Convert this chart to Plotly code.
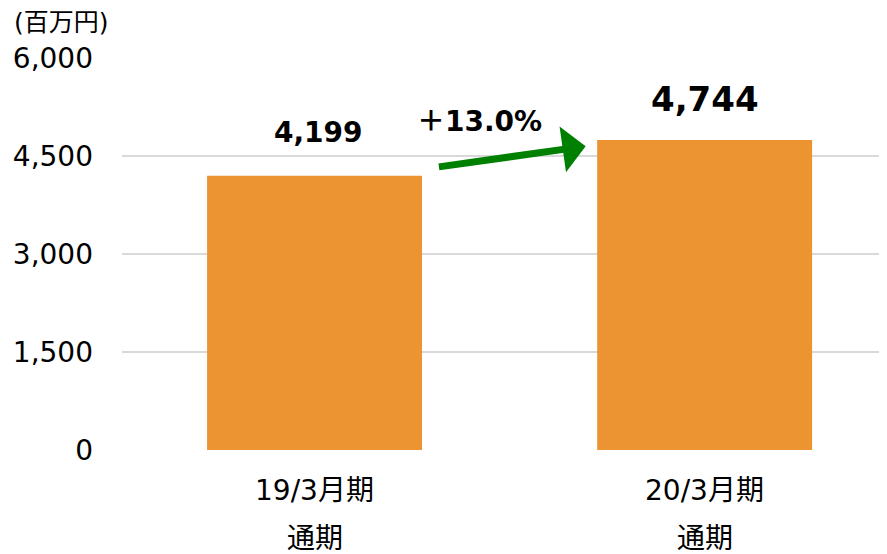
import plotly.graph_objects as go

categories = ["19/3月期", "20/3月期"]
sublabels = ["通期", "通期"]
values = [4199, 4744]
value_labels = ["4,199", "4,744"]
growth_label = "＋13.0%"
y_ticks = [0, 1500, 3000, 4500, 6000]
y_ticktext = ["0", "1,500", "3,000", "4,500", "6,000"]
unit_label = "(百万円)"

FONT = "DejaVu Sans, Noto Sans CJK JP, sans-serif"
BAR_COLOR = "#EC9432"

fig = go.Figure()
fig.add_trace(go.Bar(
    x=[0, 1], y=values, width=0.551,
    marker=dict(color=BAR_COLOR, line=dict(width=0)),
    hoverinfo="skip",
))

annotations = []
# category labels (two lines)
for i, (c, s) in enumerate(zip(categories, sublabels)):
    annotations.append(dict(x=i, y=0, xref="x", yref="y", text=c, showarrow=False,
                            yanchor="middle", yshift=-40,
                            font=dict(family=FONT, size=28, color="#000")))
    annotations.append(dict(x=i, y=0, xref="x", yref="y", text=s, showarrow=False,
                            yanchor="middle", yshift=-88,
                            font=dict(family=FONT, size=28, color="#000")))
# value labels
annotations.append(dict(x=0.01, y=values[0], xref="x", yref="y", text="<b>" + value_labels[0] + "</b>",
                        showarrow=False, yanchor="middle", yshift=43,
                        font=dict(family=FONT, size=28, color="#000")))
annotations.append(dict(x=1.0, y=values[1], xref="x", yref="y", text="<b>" + value_labels[1] + "</b>",
                        showarrow=False, yanchor="middle", yshift=41,
                        font=dict(family=FONT, size=34, color="#000")))
# growth label
annotations.append(dict(x=0.5, y=values[1], xref="x", yref="y", text="<b>" + growth_label + "</b>",
                        showarrow=False, yanchor="middle", xshift=-30, yshift=19,
                        font=dict(family=FONT, size=28, color="#000")))
# arrow
annotations.append(dict(x=0.695, y=4650, ax=0.315, ay=4330, xref="x", yref="y",
                        axref="x", ayref="y", text="", showarrow=True,
                        arrowhead=1, arrowsize=1.1, arrowwidth=7, arrowcolor="#008000"))
# unit label
annotations.append(dict(x=0, y=1, xref="paper", yref="paper", text=unit_label, showarrow=False,
                        xanchor="left", yanchor="middle", xshift=-110, yshift=36,
                        font=dict(family=FONT, size=25, color="#000")))

fig.update_layout(
    width=887, height=554,
    margin=dict(l=114, r=0, t=50, b=112),
    paper_bgcolor="white", plot_bgcolor="white",
    showlegend=False,
    annotations=annotations,
    xaxis=dict(range=[-0.4936, 1.488], showticklabels=False, showgrid=False,
               zeroline=False, showline=False, ticks=""),
    yaxis=dict(range=[0, 6000], tickvals=y_ticks, ticktext=y_ticktext,
               showgrid=True, gridcolor="#D9D9D9", gridwidth=2,
               zeroline=False, showline=False, ticks="",
               ticklabelstandoff=28,
               tickfont=dict(family=FONT, size=28, color="#000")),
)

fig.write_html("out.html")
